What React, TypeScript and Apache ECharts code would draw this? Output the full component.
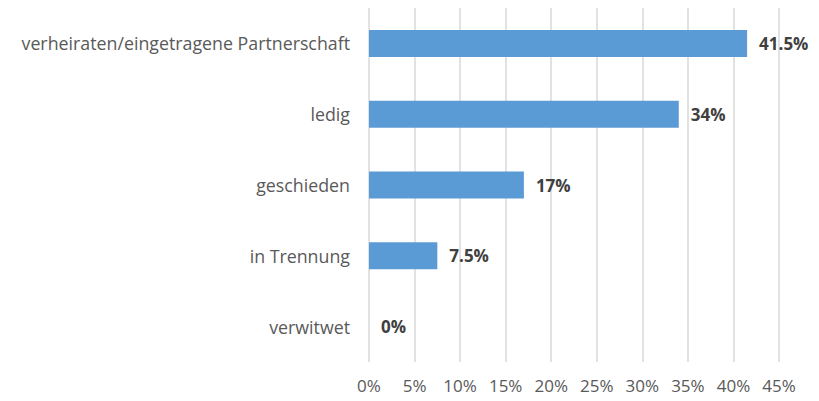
import React, { useEffect, useRef } from "react";
import * as echarts from "echarts";

const categories = [
  "verheiraten/eingetragene Partnerschaft",
  "ledig",
  "geschieden",
  "in Trennung",
  "verwitwet",
];
const values = [41.5, 34, 17, 7.5, 0];
const xTicks = { min: 0, max: 45, interval: 5 };

const FONT = "'Open Sans', 'Noto Sans', sans-serif";

export default function App() {
  const ref = useRef<HTMLDivElement>(null);
  useEffect(() => {
    if (!ref.current) return;
    const chart = echarts.init(ref.current, undefined, { renderer: "svg" });
    chart.setOption({
      animation: false,
      grid: { left: 369, right: 40, top: 8, bottom: 39, containLabel: false },
      xAxis: {
        type: "value",
        min: xTicks.min,
        max: xTicks.max,
        interval: xTicks.interval,
        axisLine: { show: false },
        axisTick: { show: false },
        splitLine: { show: true, lineStyle: { color: "#D9D9D9", width: 1.5 } },
        axisLabel: {
          formatter: (v: number) => v + "%",
          color: "#595959",
          fontSize: 17,
          fontFamily: FONT,
          margin: 15,
        },
      },
      yAxis: {
        type: "category",
        data: categories,
        inverse: true,
        axisLine: { show: false },
        axisTick: { show: false },
        splitLine: { show: false },
        axisLabel: {
          color: "#595959",
          fontSize: 17.8,
          fontFamily: FONT,
          margin: 19,
        },
      },
      series: [
        {
          type: "bar",
          data: values,
          barWidth: 27,
          itemStyle: { color: "#5B9BD5" },
          label: {
            show: true,
            position: "right",
            distance: 12,
            formatter: (p: any) => p.value + "%",
            color: "#404040",
            fontWeight: "bold",
            fontSize: 17,
            fontFamily: FONT,
          },
        },
      ],
    });
    return () => chart.dispose();
  }, []);
  return <div ref={ref} style={{ width: 819, height: 401, position: "absolute", left: 0, top: 0 }} />;
}
